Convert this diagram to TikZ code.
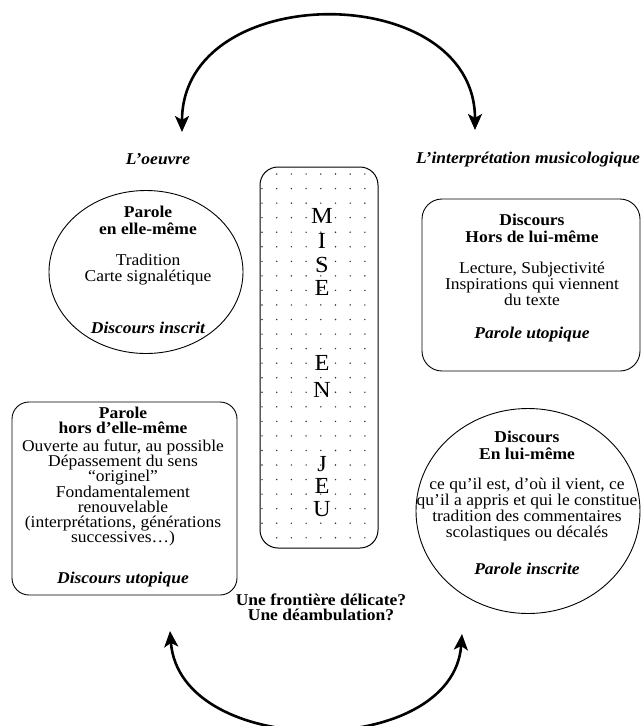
\documentclass[tikz,border=0pt]{standalone}
\usepackage{fontspec}
\setmainfont{Liberation Serif}[FakeStretch=1.06]
\usetikzlibrary{arrows.meta,shapes.geometric}
\begin{document}
\begin{tikzpicture}[x=1pt,y=-1pt,
  txt/.style={align=center,inner sep=0pt,font=\fontsize{16.5}{16}\selectfont},
  tight/.style={txt,font=\fontsize{16.5}{15.3}\selectfont},
  ttl/.style={txt,font=\fontsize{16.5}{16.8}\selectfont\bfseries},
  ttlb/.style={txt,font=\fontsize{16.5}{15.2}\selectfont\bfseries},
  lab/.style={txt,font=\fontsize{16.5}{16}\selectfont\bfseries\itshape},
  shapeline/.style={draw,line width=0.9pt},
  letter/.style={inner sep=0pt,font=\fontsize{23}{23}\selectfont},
  bigarrow/.style={line width=2.6pt,{Stealth[length=16pt,width=14pt,inset=4pt]}-{Stealth[length=16pt,width=14pt,inset=4pt]}},
  dot/.style={fill=black!80}
]
% central box
\node[shapeline,line width=1pt,rounded corners=18,minimum width=118,minimum height=381] (mej) at (319,357.5) {};
\foreach \r in {0,...,25}{\foreach \c in {0,...,7}{
  \pgfmathtruncatemacro\skd{(\c==0)&&((\r==0)||(\r==25))}
  \ifnum\skd=0 \fill[dot] (262+14.7*\c,174+14.55*\r) circle[radius=0.8];\fi
}}
\node[letter] (l1) at (322,215.5) {M};
\node[letter] (l2) at (322,240.5) {I};
\node[letter] (l3) at (322,264.5) {S};
\node[letter] (l4) at (322,287.5) {E};
\node[letter] (l5) at (322,362.5) {E};
\node[letter] (l6) at (322,389.5) {N};
\node[letter] (l7) at (322,464.5) {J};
\node[letter] (l8) at (322,485.5) {E};
\node[letter] (l9) at (322,509.5) {U};

% headings
\node[lab] (oeuvre) at (158,159) {L’oeuvre};
\node[lab] (interp) at (528,160) {L’interprétation musicologique};

% left ellipse
\node[shapeline,ellipse,minimum width=194,minimum height=163] (pe) at (146,272) {};
\node[ttl] (pe1) at (148,220.5) {Parole\\en elle-même};
\node[txt] (pe2) at (148,270) {Tradition\\Carte signalétique};
\node[lab] (pe3) at (148,328) {Discours inscrit};

% right top box
\node[shapeline,rounded corners=20,minimum width=218,minimum height=172] (dh) at (531,285) {};
\node[ttl] (dh1) at (532,228.5) {Discours\\Hors de lui-même};
\node[txt] (dh2) at (532,284) {Lecture, Subjectivité\\Inspirations qui viennent\\du texte};
\node[lab] (dh3) at (532,335) {Parole utopique};

% left bottom box
\node[shapeline,rounded corners=17,minimum width=225,minimum height=193] (ph) at (124.5,498.5) {};
\node[ttlb] (ph1) at (123,420.5) {Parole\\hors d’elle-même};
\node[tight] (ph2) at (123,493) {Ouverte au futur, au possible\\Dépassement du sens\\“originel”\\Fondamentalement\\renouvelable\\(interprétations, générations\\successives…)};
\node[lab] (ph3) at (123,580) {Discours utopique};

% right bottom ellipse
\node[shapeline,ellipse,minimum width=224,minimum height=205] (de) at (528,511) {};
\node[ttl] (de1) at (527,445.5) {Discours\\En lui-même};
\node[txt] (de2) at (527,510) {ce qu’il est, d’où il vient, ce\\qu’il a appris et qui le constitue\\tradition des commentaires\\scolastiques ou décalés};
\node[lab] (de3) at (527,569) {Parole inscrite};

% bottom question
\node[ttlb] (q) at (321,607) {Une frontière délicate?\\Une déambulation?};

% arrows
\coordinate (ta) at (182,132);
\coordinate (tb) at (475,130);
\coordinate (ba) at (170,631);
\coordinate (bb) at (462,634);
\draw[bigarrow] (ta) .. controls (182,-21) and (475,-21) .. (tb);
\draw[bigarrow] (ba) .. controls (180,760) and (453,760) .. (bb);

\pgfresetboundingbox
\useasboundingbox (0,0) rectangle (641,726);
\end{tikzpicture}
\end{document}
